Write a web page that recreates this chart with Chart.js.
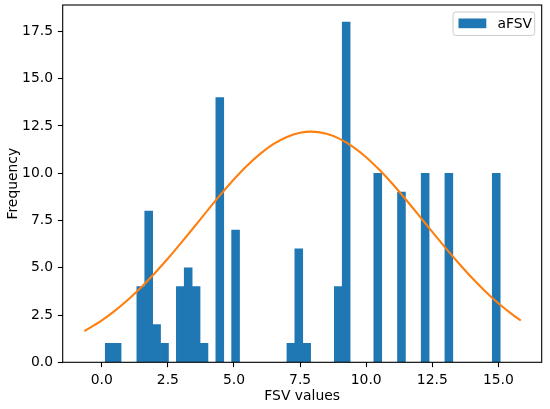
<!DOCTYPE html>
<html><head><meta charset="utf-8">
<script src="https://cdn.jsdelivr.net/npm/chart.js@4.4.0/dist/chart.umd.min.js"></script>
<style>html,body{margin:0;padding:0;background:#fff}#wrap{width:550px;height:409px}</style>
</head><body><div id="wrap"><canvas id="c"></canvas></div>
<script>
// ---- data ----
const seriesLabel = 'aFSV';
const xTitle = 'FSV values';
const yTitle = 'Frequency';
const binMin = 0.13, binMax = 15.07, binCount = 50;
const binCounts = [1,1,0,0,4,8,2,1,0,4, 5,4,1,0,14,0,7,0,0,0, 0,0,0,1,6,1,0,0,0,4, 18,0,0,0,10,0,0,9,0,0, 10,0,0,10,0,0,0,0,0,10];
const curveX = [-0.66,0,0.5,1,1.5,2,2.5,3,3.5,4,4.5,5,5.5,6,6.5,7,7.5,7.92,8.5,9,9.5,10,10.5,11,11.5,12,12.5,13,13.5,14,14.5,15,15.5,15.85];
const curveY = [1.65,2.22,2.73,3.32,3.98,4.71,5.49,6.32,7.17,8.04,8.88,9.68,10.41,11.04,11.55,11.92,12.14,12.2,12.09,11.82,11.40,10.85,10.18,9.43,8.61,7.76,6.90,6.05,5.24,4.47,3.76,3.12,2.56,2.21];
const xTicks = [0,2.5,5,7.5,10,12.5,15];
const yTicks = [0,2.5,5,7.5,10,12.5,15,17.5];

// ---- build ----
const binW = (binMax - binMin) / binCount;
const barData = binCounts.map((c, i) => ({x: binMin + (i + 0.5) * binW, y: c}));
const lineData = curveX.map((x, i) => ({x: x, y: curveY[i]}));

const FS = 13.9;
Chart.defaults.font.family = 'DejaVu Sans';
Chart.defaults.font.size = FS;
Chart.defaults.color = '#000';

const framePlugin = {
  id: 'frame',
  afterDraw(chart) {
    const {ctx, chartArea: a} = chart;
    ctx.save();
    ctx.strokeStyle = '#000';
    ctx.lineWidth = 1.1;
    ctx.strokeRect(a.left, a.top, a.right - a.left, a.bottom - a.top);
    // legend
    const w = 81.7, h = 23.4;
    const x0 = a.right - 7 - w, y0 = a.top + 7;
    ctx.beginPath();
    ctx.roundRect(x0, y0, w, h, 2.8);
    ctx.fillStyle = 'rgba(255,255,255,0.8)';
    ctx.fill();
    ctx.strokeStyle = '#cccccc';
    ctx.lineWidth = 1;
    ctx.stroke();
    ctx.fillStyle = '#1f77b4';
    ctx.fillRect(x0 + 5.5, y0 + 6.5, 27.8, 9.7);
    ctx.fillStyle = '#000';
    ctx.font = FS + 'px "DejaVu Sans"';
    ctx.textBaseline = 'middle';
    ctx.textAlign = 'left';
    ctx.fillText(chart.data.datasets[1].label, x0 + 44.5, y0 + h / 2 + 0.5);
    ctx.restore();
  }
};

new Chart(document.getElementById('c'), {
  type: 'bar',
  data: {
    datasets: [
      {type: 'line', data: lineData, borderColor: '#ff7f0e', borderWidth: 2.08, pointRadius: 0,
       cubicInterpolationMode: 'monotone', fill: false, order: 1},
      {type: 'bar', label: seriesLabel, data: barData, backgroundColor: '#1f77b4', borderWidth: 0,
       barPercentage: 1, categoryPercentage: 1, order: 2}
    ]
  },
  options: {
    responsive: true, maintainAspectRatio: false, animation: false,
    layout: {padding: {top: 5, right: 8.3, left: 0, bottom: 0}},
    plugins: {legend: {display: false}, tooltip: {enabled: false}},
    scales: {
      x: {
        type: 'linear', min: -1.48, max: 16.64, offset: false,
        afterBuildTicks: s => { s.ticks = xTicks.map(v => ({value: v})); },
        afterFit: s => { s.height = 46.7; s.paddingLeft = 0; s.paddingRight = 0; },
        ticks: {callback: v => v.toFixed(1), padding: 4.86, maxRotation: 0, autoSkip: false},
        grid: {drawOnChartArea: false, drawTicks: true, tickLength: 4.86, tickColor: '#000', tickWidth: 1.1, offset: false},
        border: {display: false},
        title: {display: true, text: xTitle, padding: {top: 4.2, bottom: 4.2}}
      },
      y: {
        min: 0, max: 18.9,
        afterBuildTicks: s => { s.ticks = yTicks.map(v => ({value: v})); },
        afterFit: s => { s.width = 62.7; s.paddingTop = 0; s.paddingBottom = 0; },
        ticks: {callback: v => v.toFixed(1), padding: 4.86, autoSkip: false},
        grid: {drawOnChartArea: false, drawTicks: true, tickLength: 4.86, tickColor: '#000', tickWidth: 1.1},
        border: {display: false},
        title: {display: true, text: yTitle, padding: {top: 5, bottom: 5}}
      }
    }
  },
  plugins: [framePlugin]
});
</script></body></html>
